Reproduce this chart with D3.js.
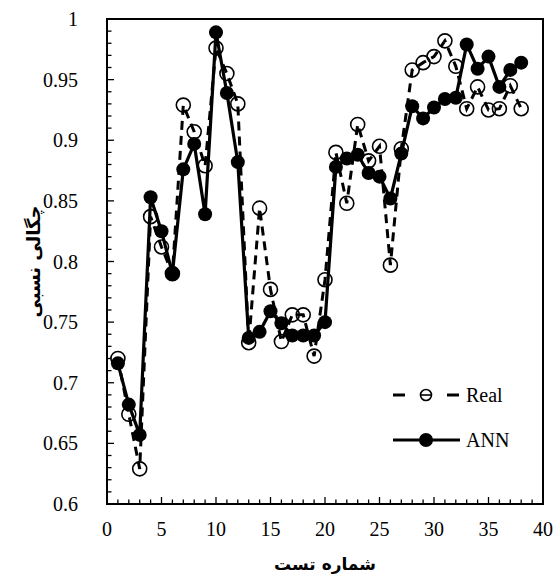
<!DOCTYPE html>
<html><head><meta charset="utf-8">
<script src="https://cdn.jsdelivr.net/npm/d3@7"></script>
<style>body{margin:0;background:#fff}</style>
</head><body>
<svg id="c" width="555" height="583"></svg>
<script>
const testNo = d3.range(1, 39);
const realValues = [0.720,0.674,0.629,0.837,0.812,0.790,0.929,0.907,0.879,0.976,0.955,0.930,0.733,0.844,0.777,0.734,0.756,0.756,0.722,0.785,0.890,0.848,0.913,0.883,0.895,0.797,0.893,0.958,0.964,0.969,0.982,0.961,0.926,0.944,0.925,0.926,0.945,0.926];
const annValues  = [0.716,0.682,0.657,0.853,0.825,0.790,0.876,0.897,0.839,0.989,0.939,0.882,0.737,0.742,0.759,0.749,0.739,0.739,0.739,0.750,0.878,0.885,0.888,0.873,0.870,0.852,0.889,0.928,0.918,0.927,0.934,0.935,0.979,0.959,0.969,0.944,0.958,0.964];
const xTicks = [0,5,10,15,20,25,30,35,40];
const yTicks = [0.6,0.65,0.7,0.75,0.8,0.85,0.9,0.95,1];
const seriesNames = ["Real","ANN"];
const xTitle = "شماره تست";
const yTitle = "چگالی نسبی";

const svg = d3.select("#c");
const L = 107, T = 19, W = 436, H = 485;
const x = d3.scaleLinear().domain([0,40]).range([L, L+W]);
const y = d3.scaleLinear().domain([0.6,1]).range([T+H, T]);
const serif = "'Liberation Serif','Times New Roman',serif";

// ticks (inward)
const gx = svg.append("g").attr("stroke","#000").attr("stroke-width",1.3);
d3.range(0,41).forEach(v => {
  const len = v % 5 === 0 ? 7 : 4.5;
  gx.append("line").attr("x1",x(v)).attr("x2",x(v)).attr("y1",T+H).attr("y2",T+H-len);
});
d3.range(0,41).forEach(i => {
  const v = 0.6 + i*0.01;
  const len = i % 5 === 0 ? 7 : 4.5;
  gx.append("line").attr("x1",L).attr("x2",L+len).attr("y1",y(v)).attr("y2",y(v));
});

// frame
svg.append("rect").attr("x",L).attr("y",T).attr("width",W).attr("height",H)
  .attr("fill","none").attr("stroke","#000").attr("stroke-width",2);

// tick labels
svg.append("g").selectAll("text").data(xTicks).join("text")
  .attr("x", d => x(d)).attr("y", T+H+32).attr("text-anchor","middle")
  .attr("font-family", serif).attr("font-size",20).text(d => d);
svg.append("g").selectAll("text").data(yTicks).join("text")
  .attr("x", 78).attr("y", d => y(d)).attr("dy","0.35em").attr("text-anchor","end")
  .attr("font-family", serif).attr("font-size",20).text(d => d);

// axis titles
svg.append("text").attr("x", x(20)).attr("y", 570).attr("text-anchor","middle")
  .attr("font-family","'DejaVu Sans',sans-serif").attr("font-weight","bold").attr("font-size",17)
  .attr("direction","rtl").text(xTitle);
svg.append("text").attr("transform","translate(34,"+ (T+H/2) +") rotate(-90)").attr("text-anchor","middle")
  .attr("font-family","'DejaVu Sans',sans-serif").attr("font-weight","bold").attr("font-size",18)
  .attr("dy","0.35em").attr("direction","rtl").text(yTitle);

// Real series
const realData = testNo.map((t,i)=>({t, v: realValues[i]}));
const annData = testNo.map((t,i)=>({t, v: annValues[i]}));
const line = d3.line().x(d=>x(d.t)).y(d=>y(d.v));
svg.append("path").datum(realData).attr("d", line).attr("fill","none")
  .attr("stroke","#000").attr("stroke-width",3).attr("stroke-dasharray","9,6");
svg.append("g").selectAll("circle").data(realData).join("circle")
  .attr("cx", d=>x(d.t)).attr("cy", d=>y(d.v)).attr("r",7)
  .attr("fill","none").attr("stroke","#000").attr("stroke-width",1.6);

// ANN series
svg.append("path").datum(annData).attr("d", line).attr("fill","none")
  .attr("stroke","#000").attr("stroke-width",3.2);
svg.append("g").selectAll("circle").data(annData).join("circle")
  .attr("cx", d=>x(d.t)).attr("cy", d=>y(d.v)).attr("r",7).attr("fill","#000");

// legend
const lg = svg.append("g");
const ly1 = 395, ly2 = 440;
[[393,405],[447,459]].forEach(s => lg.append("line").attr("x1",s[0]).attr("x2",s[1]).attr("y1",ly1).attr("y2",ly1)
  .attr("stroke","#000").attr("stroke-width",3));
lg.append("circle").attr("cx",426).attr("cy",ly1).attr("r",5.5).attr("fill","#fff").attr("stroke","#000").attr("stroke-width",1.6);
lg.append("line").attr("x1",420.5).attr("x2",431.5).attr("y1",ly1).attr("y2",ly1).attr("stroke","#000").attr("stroke-width",1.6);
lg.append("text").attr("x",466).attr("y",ly1).attr("dy","0.35em").attr("font-family",serif).attr("font-size",20).text(seriesNames[0]);
lg.append("line").attr("x1",393).attr("x2",460).attr("y1",ly2).attr("y2",ly2).attr("stroke","#000").attr("stroke-width",3.2);
lg.append("circle").attr("cx",426).attr("cy",ly2).attr("r",7).attr("fill","#000");
lg.append("text").attr("x",466).attr("y",ly2).attr("dy","0.35em").attr("font-family",serif).attr("font-size",20).text(seriesNames[1]);
</script>
</body></html>
